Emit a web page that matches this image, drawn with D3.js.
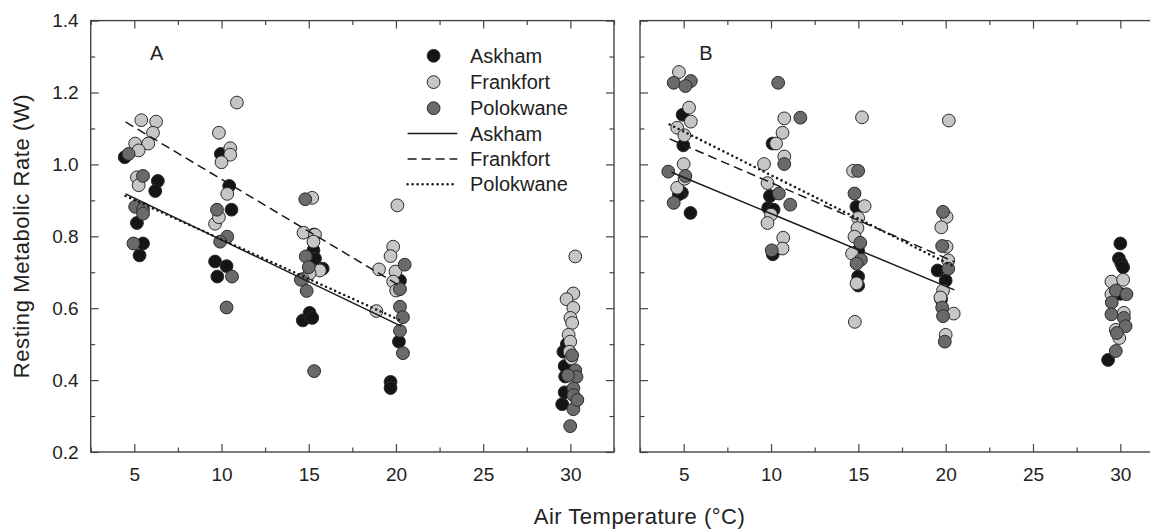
<!DOCTYPE html>
<html><head><meta charset="utf-8">
<script src="https://cdn.jsdelivr.net/npm/d3@7"></script>
<style>
body{margin:0;background:#fff;}
svg{display:block;}
text{font-family:"Liberation Sans",Arial,sans-serif;fill:#222;}
</style></head>
<body><svg id="c" width="1150" height="530"></svg>
<script>
// ---- data ----
const populations = ["Askham","Frankfort","Polokwane"];
const xMajorTicks = [5,10,15,20,25,30];
const xMinorTicks = [2.5,7.5,12.5,17.5,22.5,27.5,32.5];
const yMajorTicks = [0.2,0.4,0.6,0.8,1.0,1.2,1.4];
const yMinorTicks = [0.3,0.5,0.7,0.9,1.1,1.3];
const panelLabels = ["A","B"];

const askhamA = [
[4.45,1.02],[6.35,0.954],[6.2,0.926],[5.15,0.837],[5.5,0.78],[5.3,0.747],
[9.96,1.029],[10.44,0.94],[10.57,0.874],[9.63,0.73],[10.29,0.717],[9.76,0.688],
[15.3,0.805],[15.27,0.761],[15.36,0.738],[15.8,0.71],[14.66,0.566],[15.05,0.587],[15.2,0.573],
[19.69,0.395],[19.69,0.378],[20.17,0.507],[20.23,0.677],
[29.53,0.333],[29.67,0.366],[29.67,0.439],[29.6,0.479],[29.7,0.41],[29.8,0.5]
];
const frankfortA = [
[5.4,1.123],[6.25,1.119],[6.07,1.088],[5.05,1.058],[5.8,1.058],[5.25,1.039],[5.15,0.964],[5.25,0.942],
[10.88,1.172],[9.85,1.088],[10.5,1.045],[10.5,1.027],[10.0,1.006],[10.33,0.918],[9.63,0.835],[9.85,0.853],
[15.2,0.907],[14.7,0.81],[15.36,0.804],[15.27,0.785],[15.64,0.705],[15.05,0.697],[14.66,0.681],
[20.08,0.886],[19.84,0.771],[19.69,0.745],[19.03,0.708],[19.97,0.702],[19.84,0.674],[20.01,0.649],[18.88,0.592],
[30.28,0.744],[30.17,0.641],[29.78,0.625],[30.17,0.601],[30.0,0.573],[30.1,0.559],[29.9,0.526],[29.99,0.507],[29.95,0.479],[30.05,0.46]
];
const polokwaneA = [
[4.67,1.029],[5.5,0.968],[5.05,0.882],[5.5,0.876],[5.5,0.863],[4.95,0.78],
[9.74,0.874],[10.33,0.799],[9.92,0.785],[10.6,0.688],[10.29,0.602],
[14.8,0.903],[14.83,0.744],[15.0,0.714],[14.55,0.679],[14.88,0.648],[15.31,0.425],
[20.5,0.721],[20.23,0.653],[20.23,0.604],[20.4,0.575],[20.23,0.537],[20.4,0.475],
[30.1,0.469],[30.28,0.427],[30.35,0.409],[29.86,0.413],[30.17,0.377],[30.17,0.358],[30.17,0.319],[29.99,0.272],[30.4,0.345]
];
const askhamB = [
[4.94,1.138],[4.98,1.053],[4.9,0.921],[5.39,0.865],[4.73,0.917],
[10.09,1.058],[9.94,0.912],[9.84,0.879],[10.15,0.874],[10.1,0.75],
[14.89,0.882],[14.99,0.76],[14.99,0.688],[14.99,0.663],
[19.54,0.705],[20.0,0.677],[19.74,0.625],
[30.0,0.78],[29.92,0.738],[30.06,0.724],[30.16,0.714],[29.3,0.456],[30.0,0.64]
];
const frankfortB = [
[4.73,1.257],[5.31,1.158],[5.41,1.119],[4.63,1.102],[5.04,1.081],[5.0,1.001],[4.63,0.935],[5.05,0.96],
[10.76,1.128],[10.66,1.088],[10.29,1.058],[10.76,1.022],[9.6,1.001],[9.8,0.948],[10.0,0.86],[9.8,0.837],[10.7,0.796],[10.66,0.766],
[15.21,1.131],[14.7,0.982],[15.36,0.884],[14.99,0.851],[14.95,0.823],[14.78,0.799],[14.64,0.752],[14.9,0.669],[14.8,0.562],
[20.18,1.122],[20.05,0.854],[19.75,0.825],[20.05,0.771],[20.15,0.733],[19.85,0.649],[19.7,0.63],[20.46,0.585],[20.0,0.526],
[29.49,0.674],[30.16,0.679],[29.49,0.639],[30.2,0.587],[29.74,0.54],[29.94,0.517]
];
const polokwaneB = [
[4.43,1.227],[5.41,1.232],[5.1,1.218],[4.12,0.98],[5.1,0.968],[4.43,0.893],
[10.41,1.227],[11.68,1.13],[10.76,1.001],[10.45,0.919],[11.1,0.888],[10.04,0.761],
[14.99,0.982],[14.78,0.919],[15.11,0.782],[15.15,0.735],[14.9,0.724],
[19.85,0.868],[19.8,0.773],[20.15,0.71],[19.8,0.602],[19.85,0.578],[19.95,0.507],
[29.74,0.649],[30.35,0.639],[29.51,0.616],[29.49,0.583],[30.2,0.573],[30.3,0.55],[29.8,0.531],[29.74,0.481]
];
// regression line end points [x, y]
const fitAskhamA = [[4.5,0.918],[20.3,0.55]];
const fitFrankfortA = [[4.5,1.118],[20.3,0.66]];
const fitPolokwaneA = [[4.5,0.912],[20.3,0.565]];
const fitAskhamB = [[4.3,0.978],[20.5,0.651]];
const fitFrankfortB = [[4.2,1.071],[20.5,0.729]];
const fitPolokwaneB = [[4.2,1.111],[20.5,0.715]];

// ---- styles ----
const fills = {Askham:"#151515", Frankfort:"#c6c6c6", Polokwane:"#6a6a6a"};
const dashes = {Askham:null, Frankfort:"9,5", Polokwane:"0,5"};

const svg = d3.select("#c");
const y = d3.scaleLinear().domain([0.2,1.4]).range([452,20.6]);

const panels = [
  {label:panelLabels[0], x:d3.scaleLinear().domain([2.5,32.5]).range([90.7,614]),
   pts:{Askham:askhamA,Frankfort:frankfortA,Polokwane:polokwaneA},
   fits:{Askham:fitAskhamA,Frankfort:fitFrankfortA,Polokwane:fitPolokwaneA}, yLabels:true, right:true},
  {label:panelLabels[1], x:d3.scaleLinear().domain([2.5,32.5]).range([640,1164]),
   pts:{Askham:askhamB,Frankfort:frankfortB,Polokwane:polokwaneB},
   fits:{Askham:fitAskhamB,Frankfort:fitFrankfortB,Polokwane:fitPolokwaneB}, yLabels:false, right:true}
];

function styleAxis(g){
  g.select(".domain").remove();
  g.selectAll(".tick line").attr("stroke","#444").attr("stroke-width",1.2);
  g.selectAll(".tick text").style("font-size","19px").attr("fill","#222")
   .style("font-family","'Liberation Sans',Arial,sans-serif");
}

panels.forEach(p=>{
  const x = p.x;
  const [x0,x1] = x.range();
  const [yb,yt] = y.range();
  const g = svg.append("g");
  // minor ticks
  g.append("g").attr("transform",`translate(0,${yb})`)
   .call(d3.axisBottom(x).tickValues(xMinorTicks).tickSize(-4.5).tickFormat("")).call(styleAxis);
  g.append("g").attr("transform",`translate(0,${yt})`)
   .call(d3.axisTop(x).tickValues(xMinorTicks).tickSize(-4.5).tickFormat("")).call(styleAxis);
  g.append("g").attr("transform",`translate(${x0},0)`)
   .call(d3.axisLeft(y).tickValues(yMinorTicks).tickSize(-4.5).tickFormat("")).call(styleAxis);
  g.append("g").attr("transform",`translate(${x1},0)`)
   .call(d3.axisRight(y).tickValues(yMinorTicks).tickSize(-4.5).tickFormat("")).call(styleAxis);
  // major ticks
  g.append("g").attr("transform",`translate(0,${yb})`)
   .call(d3.axisBottom(x).tickValues(xMajorTicks).tickSize(-8).tickPadding(16).tickFormat(d3.format("d"))).call(styleAxis);
  g.append("g").attr("transform",`translate(0,${yt})`)
   .call(d3.axisTop(x).tickValues(xMajorTicks).tickSize(-8).tickFormat("")).call(styleAxis);
  g.append("g").attr("transform",`translate(${x0},0)`)
   .call(d3.axisLeft(y).tickValues(yMajorTicks).tickSize(-8).tickPadding(12)
     .tickFormat(p.yLabels ? d3.format(".1f") : "")).call(styleAxis);
  g.append("g").attr("transform",`translate(${x1},0)`)
   .call(d3.axisRight(y).tickValues(yMajorTicks).tickSize(-8).tickFormat("")).call(styleAxis);
  // frame
  g.append("rect").attr("x",x0).attr("y",yt).attr("width",x1-x0).attr("height",yb-yt)
   .attr("fill","none").attr("stroke","#444").attr("stroke-width",1.4);

  // points
  populations.forEach(pop=>{
    g.append("g").selectAll("circle").data(p.pts[pop]).join("circle")
     .attr("cx",d=>x(d[0])).attr("cy",d=>y(d[1])).attr("r",6.4)
     .attr("fill",fills[pop]).attr("stroke","#2a2a2a").attr("stroke-width",1);
  });
  // fits
  const line = d3.line().x(d=>x(d[0])).y(d=>y(d[1]));
  populations.forEach(pop=>{
    const path = g.append("path").datum(p.fits[pop]).attr("d",line)
      .attr("fill","none").attr("stroke","#1a1a1a");
    if(pop==="Polokwane"){ path.attr("stroke-width",2.6).attr("stroke-linecap","round").attr("stroke-dasharray",dashes[pop]); }
    else { path.attr("stroke-width",1.5); if(dashes[pop]) path.attr("stroke-dasharray",dashes[pop]); }
  });
  // panel label
  g.append("text").attr("x",x0+66).attr("y",60).attr("text-anchor","middle")
   .style("font-size","20px").text(p.label);
});

// legend (panel A)
const lg = svg.append("g");
const legMarkY = [55.8,82.1,108.2];
const legLineY = [133.5,158.9,184.2];
populations.forEach((pop,i)=>{
  lg.append("circle").attr("cx",433.6).attr("cy",legMarkY[i]).attr("r",6.4)
    .attr("fill",fills[pop]).attr("stroke","#2a2a2a").attr("stroke-width",1);
  lg.append("text").attr("x",470).attr("y",legMarkY[i]).attr("dy","0.36em")
    .style("font-size","20px").text(pop);
});
populations.forEach((pop,i)=>{
  const l = lg.append("line").attr("x1",407.6).attr("x2",457.3).attr("y1",legLineY[i]).attr("y2",legLineY[i])
    .attr("stroke","#1a1a1a");
  if(pop==="Polokwane"){ l.attr("stroke-width",2.6).attr("stroke-linecap","round").attr("stroke-dasharray","0,5"); }
  else { l.attr("stroke-width",1.5); if(dashes[pop]) l.attr("stroke-dasharray",dashes[pop]); }
  lg.append("text").attr("x",470).attr("y",legLineY[i]).attr("dy","0.36em")
    .style("font-size","20px").text(pop);
});

// axis titles
svg.append("text").attr("transform","translate(29,236) rotate(-90)").attr("text-anchor","middle")
  .style("font-size","22px").style("letter-spacing","0.6px").text("Resting Metabolic Rate (W)");
svg.append("text").attr("x",639.5).attr("y",524).attr("text-anchor","middle")
  .style("font-size","22px").style("letter-spacing","0.5px").text("Air Temperature (°C)");
</script></body></html>
